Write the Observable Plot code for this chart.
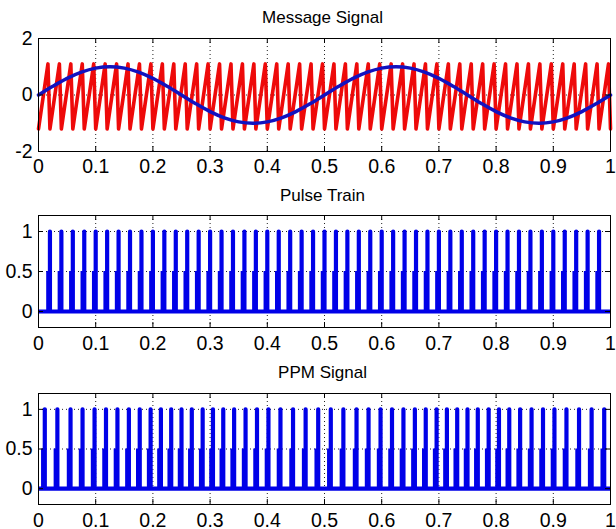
<!DOCTYPE html>
<html><head><meta charset="utf-8">
<script src="https://cdn.jsdelivr.net/npm/d3@7"></script>
<script src="https://cdn.jsdelivr.net/npm/@observablehq/plot@0.6"></script>
<style>
body{margin:0;background:#fff;}
#wrap{position:relative;width:616px;height:529px;overflow:hidden;background:#fff;}
#wrap svg{position:absolute;left:0;overflow:visible;}
</style></head><body><div id="wrap"></div>
<script>
// ---- data ----
const xTicks = [0, 0.1, 0.2, 0.3, 0.4, 0.5, 0.6, 0.7, 0.8, 0.9, 1];
const xTickLabels = ["0", "0.1", "0.2", "0.3", "0.4", "0.5", "0.6", "0.7", "0.8", "0.9", "1"];
const titles = ["Message Signal", "Pulse Train", "PPM Signal"];

const msgYTicks = [-2, 0, 2];
const msgYTickLabels = ["-2", "0", "2"];
const pulseYTicks = [0, 0.5, 1];
const pulseYTickLabels = ["0", "0.5", "1"];

// message signal (blue)
const msgT = [0, 0.025, 0.05, 0.075, 0.1, 0.125, 0.15, 0.175, 0.2, 0.225, 0.25, 0.275, 0.3, 0.325, 0.35, 0.375, 0.4, 0.425, 0.45, 0.475,
  0.5, 0.525, 0.55, 0.575, 0.6, 0.625, 0.65, 0.675, 0.7, 0.725, 0.75, 0.775, 0.8, 0.825, 0.85, 0.875, 0.9, 0.925, 0.95, 0.975, 1];
const msgV = [0, 0.309, 0.588, 0.809, 0.951, 1, 0.951, 0.809, 0.588, 0.309, 0, -0.309, -0.588, -0.809, -0.951, -1, -0.951, -0.809, -0.588, -0.309,
  0, 0.309, 0.588, 0.809, 0.951, 1, 0.951, 0.809, 0.588, 0.309, 0, -0.309, -0.588, -0.809, -0.951, -1, -0.951, -0.809, -0.588, -0.309, 0];

// sawtooth carrier (red): trough times, peak times, levels
const sawTroughT = [0, 0.02, 0.04, 0.06, 0.08, 0.1, 0.12, 0.14, 0.16, 0.18, 0.2, 0.22, 0.24, 0.26, 0.28, 0.3, 0.32, 0.34, 0.36, 0.38,
  0.4, 0.42, 0.44, 0.46, 0.48, 0.5, 0.52, 0.54, 0.56, 0.58, 0.6, 0.62, 0.64, 0.66, 0.68, 0.7, 0.72, 0.74, 0.76, 0.78,
  0.8, 0.82, 0.84, 0.86, 0.88, 0.9, 0.92, 0.94, 0.96, 0.98, 1];
const sawPeakT = [0.0165, 0.0365, 0.0565, 0.0765, 0.0965, 0.1165, 0.1365, 0.1565, 0.1765, 0.1965, 0.2165, 0.2365, 0.2565, 0.2765, 0.2965,
  0.3165, 0.3365, 0.3565, 0.3765, 0.3965, 0.4165, 0.4365, 0.4565, 0.4765, 0.4965, 0.5165, 0.5365, 0.5565, 0.5765, 0.5965,
  0.6165, 0.6365, 0.6565, 0.6765, 0.6965, 0.7165, 0.7365, 0.7565, 0.7765, 0.7965, 0.8165, 0.8365, 0.8565, 0.8765, 0.8965,
  0.9165, 0.9365, 0.9565, 0.9765, 0.9965];
const sawLow = -1.2;
const sawHigh = 1.1;

// pulse train times
const pulseT = [0.02, 0.04, 0.06, 0.08, 0.1, 0.12, 0.14, 0.16, 0.18, 0.2, 0.22, 0.24, 0.26, 0.28, 0.3, 0.32, 0.34, 0.36, 0.38, 0.4,
  0.42, 0.44, 0.46, 0.48, 0.5, 0.52, 0.54, 0.56, 0.58, 0.6, 0.62, 0.64, 0.66, 0.68, 0.7, 0.72, 0.74, 0.76, 0.78, 0.8,
  0.82, 0.84, 0.86, 0.88, 0.9, 0.92, 0.94, 0.96, 0.98];
// PPM pulse times
const ppmT = [0.011, 0.033, 0.056, 0.077, 0.098, 0.118, 0.138, 0.158, 0.177, 0.196, 0.214, 0.232, 0.250, 0.268, 0.287, 0.305, 0.323, 0.342,
  0.362, 0.382, 0.402, 0.423, 0.445, 0.467, 0.489, 0.511, 0.533, 0.556, 0.577, 0.598, 0.618, 0.638, 0.658, 0.677, 0.696, 0.714,
  0.732, 0.750, 0.768, 0.787, 0.805, 0.823, 0.842, 0.862, 0.882, 0.902, 0.923, 0.945, 0.967, 0.989];
const pulseLevels = [0, 1];

// ---- build tables ----
const msg = msgT.map((t, i) => ({t, v: msgV[i]}));
const saw = [];
sawPeakT.forEach((p, i) => { saw.push({t: sawTroughT[i], v: sawLow}); saw.push({t: p, v: sawHigh}); });
saw.push({t: sawTroughT[sawTroughT.length - 1], v: sawLow});

function pulsePath(times) {
  const out = [{t: 0, v: pulseLevels[0]}];
  for (const t of times) { out.push({t, v: pulseLevels[0]}, {t, v: pulseLevels[1]}, {t, v: pulseLevels[0]}); }
  out.push({t: 1, v: pulseLevels[0]});
  return out;
}

const RED = "#ee0a0a", BLUE = "#0000e8", SINE = "#1212c0";
const innerW = 616 - 38 - 6;

function panel({top, height, marginTop, marginBottom, yDomain, yTicks, yTickLabels, title, titleDy, xPad, marks}) {
  const innerH = height - marginTop - marginBottom;
  const tY = 5 * (yDomain[1] - yDomain[0]) / innerH;
  const tX = 5 / innerW;
  const inner = xTicks.slice(1, -1);
  const svg = Plot.plot({
    width: 616, height, marginTop, marginBottom, marginLeft: 38, marginRight: 6,
    style: {fontFamily: "'Liberation Sans', Arial, sans-serif", fontSize: "19.5px", color: "#000", background: "transparent", overflow: "visible"},
    x: {domain: [0, 1], label: null},
    y: {domain: yDomain, label: null},
    marks: [
      Plot.ruleX(inner, {stroke: "#222", strokeDasharray: "1,3", strokeWidth: 1}),
      Plot.ruleY(yTicks, {stroke: "#222", strokeDasharray: "1,3", strokeWidth: 1}),
      ...marks,
      Plot.ruleX(inner, {y1: yDomain[0], y2: yDomain[0] + tY, stroke: "#000"}),
      Plot.ruleX(inner, {y1: yDomain[1], y2: yDomain[1] - tY, stroke: "#000"}),
      Plot.ruleY(yTicks, {x1: 0, x2: tX, stroke: "#000"}),
      Plot.ruleY(yTicks, {x1: 1, x2: 1 - tX, stroke: "#000"}),
      Plot.frame({stroke: "#000", strokeWidth: 1}),
      Plot.axisX(xTicks, {label: null, tickSize: 0, tickPadding: xPad, tickFormat: d => xTickLabels[xTicks.indexOf(d)]}),
      Plot.axisY(yTicks, {label: null, tickSize: 0, tickPadding: 6, tickFormat: d => yTickLabels[yTicks.indexOf(d)]}),
      Plot.text([title], {text: d => d, frameAnchor: "top", dy: titleDy, dx: -2, fontSize: 17, lineAnchor: "middle"})
    ]
  });
  svg.style.top = top + "px";
  return svg;
}

function pulseMarks(times) {
  return [
    Plot.ruleX(times, {x: d => d, y1: pulseLevels[0], y2: 0.5, stroke: BLUE, strokeWidth: 4.5, dx: -1.5}),
    Plot.line(pulsePath(times), {x: "t", y: "v", stroke: BLUE, strokeWidth: 4.2, strokeLinejoin: "round", strokeLinecap: "butt", curve: "linear"})
  ];
}

const wrap = document.getElementById("wrap");
wrap.append(panel({
  top: 0, height: 176, marginTop: 38, marginBottom: 25, yDomain: [-2, 2],
  yTicks: msgYTicks, yTickLabels: msgYTickLabels, title: titles[0], titleDy: -21, xPad: 7.5,
  marks: [
    Plot.line(saw, {x: "t", y: "v", stroke: RED, strokeWidth: 3.6, curve: "linear"}),
    Plot.line(msg, {x: "t", y: "v", stroke: SINE, strokeWidth: 3.5, curve: "catmull-rom"})
  ]
}));
wrap.append(panel({
  top: 176, height: 176, marginTop: 39, marginBottom: 25, yDomain: [-0.2, 1.2],
  yTicks: pulseYTicks, yTickLabels: pulseYTickLabels, title: titles[1], titleDy: -19.5, xPad: 9,
  marks: pulseMarks(pulseT)
}));
wrap.append(panel({
  top: 352, height: 177, marginTop: 41, marginBottom: 25, yDomain: [-0.2, 1.2],
  yTicks: pulseYTicks, yTickLabels: pulseYTickLabels, title: titles[2], titleDy: -20.5, xPad: 9,
  marks: pulseMarks(ppmT)
}));
</script></body></html>
